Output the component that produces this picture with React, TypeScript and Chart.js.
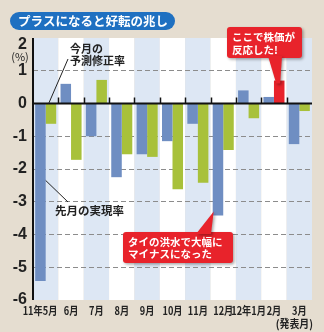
import React, { useEffect, useRef } from "react";
import { Chart, registerables } from "chart.js";
Chart.register(...registerables);

const categories = ["11年5月", "6月", "7月", "8月", "9月", "10月", "11月", "12月", "12年1月", "2月", "3月"];
const realized = [-5.42, 0.6, -1.0, -2.25, -1.55, -1.15, -0.62, -3.42, 0.4, 0.2, -1.24];
const forecastRevision = [-0.62, -1.72, 0.72, -1.55, -1.63, -2.62, -2.42, -1.42, -0.45, 0.7, -0.23];
const seriesNames = ["先月の実現率", "今月の予測修正率"];
const highlightIndex = 9;
const worstIndex = 7;
const gridValues = [1, -1, -2, -3, -4, -5];
const titleText = "プラスになると好転の兆し";
const unitText = "(%)";
const footText = "(発表月)";
const callout1 = ["ここで株価が", "反応した!"];
const callout2 = ["タイの洪水で大幅に", "マイナスになった"];
const label1 = ["今月の", "予測修正率"];

const BG = "#e5ddd0";
const BAND = "#dde7f4";
const BLUE = "#6f8ec2";
const GREEN = "#a8c13a";
const RED = "#e8232b";
const TITLE = "#1f70c1";
const JP = '"Noto Sans CJK JP", sans-serif';
const NUM = '"Liberation Sans", Arial, sans-serif';

function roundRect(ctx: CanvasRenderingContext2D, x: number, y: number, w: number, h: number, r: number) {
  ctx.beginPath();
  ctx.moveTo(x + r, y);
  ctx.lineTo(x + w - r, y);
  ctx.arcTo(x + w, y, x + w, y + r, r);
  ctx.lineTo(x + w, y + h - r);
  ctx.arcTo(x + w, y + h, x + w - r, y + h, r);
  ctx.lineTo(x + r, y + h);
  ctx.arcTo(x, y + h, x, y + h - r, r);
  ctx.lineTo(x, y + r);
  ctx.arcTo(x, y, x + r, y, r);
  ctx.closePath();
}

function squeezedText(ctx: CanvasRenderingContext2D, text: string, px: number, py: number, align: CanvasTextAlign, sx: number) {
  ctx.save();
  ctx.translate(px, py);
  ctx.scale(sx, 1);
  ctx.textAlign = align;
  ctx.fillText(text, 0, 0);
  ctx.restore();
}

const decor = {
  id: "decor",
  beforeDraw(chart: any) {
    const { ctx, chartArea: a, scales } = chart;
    const x = scales.x;
    ctx.save();
    ctx.fillStyle = BG;
    ctx.fillRect(0, 0, chart.width, chart.height);
    const n = categories.length;
    for (let i = 0; i < n; i++) {
      const l = i === 0 ? a.left : (x.getPixelForValue(i - 1) + x.getPixelForValue(i)) / 2;
      const r = i === n - 1 ? a.right : (x.getPixelForValue(i) + x.getPixelForValue(i + 1)) / 2;
      ctx.fillStyle = i % 2 === 0 ? BAND : "#ffffff";
      ctx.fillRect(l, a.top, r - l, a.bottom - a.top);
    }
    // title pill
    ctx.fillStyle = TITLE;
    roundRect(ctx, 10, 12, 165, 18, 9);
    ctx.fill();
    ctx.fillStyle = "#fff";
    ctx.font = `bold 12.5px ${JP}`;
    ctx.textBaseline = "middle";
    ctx.textAlign = "left";
    ctx.fillText(titleText, 18, 21.5);
    ctx.restore();
  },
  afterDatasetsDraw(chart: any) {
    const { ctx, chartArea: a, scales } = chart;
    const x = scales.x;
    const y = scales.y;
    const y0 = y.getPixelForValue(0);
    const n = categories.length;
    ctx.save();
    // zero line
    ctx.strokeStyle = "#111";
    ctx.lineWidth = 2;
    ctx.beginPath();
    ctx.moveTo(a.left, y0);
    ctx.lineTo(a.right, y0);
    ctx.stroke();
    // tick marks at category boundaries
    ctx.lineWidth = 1.5;
    for (let i = 1; i < n; i++) {
      const bx = Math.round((x.getPixelForValue(i - 1) + x.getPixelForValue(i)) / 2) + 0.5;
      ctx.beginPath();
      ctx.moveTo(bx, y0);
      ctx.lineTo(bx, y0 - 6);
      ctx.stroke();
    }
    // y axis line
    ctx.lineWidth = 2;
    ctx.beginPath();
    ctx.moveTo(a.left, a.top);
    ctx.lineTo(a.left, a.bottom);
    ctx.stroke();

    // x category labels (condensed, as in the original print)
    ctx.fillStyle = "#222";
    ctx.font = `bold 11.5px ${JP}`;
    ctx.textBaseline = "middle";
    const labels = x.getLabels();
    for (let i = 0; i < labels.length; i++) {
      const cx = x.getPixelForValue(i);
      if (i === 0) {
        const bnd = (x.getPixelForValue(0) + x.getPixelForValue(1)) / 2;
        squeezedText(ctx, labels[i], bnd - 1, 310.5, "right", 0.8);
      } else {
        squeezedText(ctx, labels[i], cx, 310.5, "center", 0.8);
      }
    }

    // top label "2" and unit
    ctx.fillStyle = "#222";
    ctx.font = `bold 16px ${NUM}`;
    ctx.textAlign = "right";
    ctx.textBaseline = "middle";
    ctx.fillText(String(y.max), 27, 45);
    ctx.font = `11px ${JP}`;
    ctx.textAlign = "center";
    ctx.fillText(unitText, 20, 57);

    // foot text
    ctx.font = `bold 11px ${JP}`;
    squeezedText(ctx, footText, 313, 324, "right", 0.9);

    // label lines
    const m0 = chart.getDatasetMeta(0).data;
    const m1 = chart.getDatasetMeta(1).data;
    ctx.strokeStyle = "#222";
    ctx.lineWidth = 1;
    const g0 = m1[0];
    ctx.beginPath();
    ctx.moveTo(68, 59);
    ctx.lineTo(g0.x - g0.width / 2 + 3, y0);
    ctx.stroke();
    const b0 = m0[0];
    ctx.beginPath();
    ctx.moveTo(b0.x + b0.width / 2, y.getPixelForValue(-2.35));
    ctx.lineTo(68, 202);
    ctx.stroke();
    ctx.fillStyle = "#222";
    ctx.font = `bold 11px ${JP}`;
    ctx.textAlign = "left";
    ctx.fillText(label1[0], 70, 49);
    ctx.fillText(label1[1], 70, 61);
    ctx.font = `bold 11.5px ${JP}`;
    ctx.fillText(seriesNames[0], 55, 211);

    // callout 1
    const hb = m1[highlightIndex];
    ctx.save();
    ctx.shadowColor = "rgba(0,0,0,0.35)";
    ctx.shadowBlur = 3;
    ctx.shadowOffsetX = 1.5;
    ctx.shadowOffsetY = 1.5;
    ctx.fillStyle = RED;
    roundRect(ctx, 227, 27, 75, 31, 3);
    ctx.fill();
    ctx.beginPath();
    ctx.moveTo(268, 56);
    ctx.lineTo(282, 56);
    ctx.lineTo(hb.x + 1, hb.y + 3);
    ctx.lineTo(hb.x - 3, hb.y + 3);
    ctx.closePath();
    ctx.fill();
    // callout 2
    const wb = m0[worstIndex];
    roundRect(ctx, 123, 232, 110, 31, 3);
    ctx.fill();
    ctx.beginPath();
    ctx.moveTo(196, 234);
    ctx.lineTo(211, 234);
    ctx.lineTo(wb.x - wb.width / 2 + 1, wb.y - 4);
    ctx.closePath();
    ctx.fill();
    ctx.restore();
    ctx.fillStyle = "#fff";
    ctx.textAlign = "left";
    ctx.textBaseline = "middle";
    ctx.font = `bold 10.5px ${JP}`;
    ctx.fillText(callout1[0], 232, 37);
    ctx.fillText(callout1[1], 232, 50);
    ctx.fillText(callout2[0], 128, 242);
    ctx.fillText(callout2[1], 128, 254);
    ctx.restore();
  },
};

export default function App() {
  const ref = useRef<HTMLCanvasElement>(null);
  useEffect(() => {
    if (!ref.current) return;
    const chart = new Chart(ref.current, {
      type: "bar",
      data: {
        labels: categories,
        datasets: [
          {
            label: seriesNames[0],
            data: realized,
            backgroundColor: BLUE,
            borderWidth: 0,
            categoryPercentage: 0.83,
            barPercentage: 1,
          },
          {
            label: seriesNames[1],
            data: forecastRevision,
            backgroundColor: forecastRevision.map((_, i) => (i === highlightIndex ? RED : GREEN)),
            borderWidth: 0,
            categoryPercentage: 0.83,
            barPercentage: 1,
          },
        ],
      },
      options: {
        responsive: false,
        animation: false,
        devicePixelRatio: 1,
        layout: { padding: { left: 0, right: 12, top: 38, bottom: 0 } },
        plugins: { legend: { display: false }, tooltip: { enabled: false } },
        scales: {
          x: {
            grid: { display: false, drawTicks: false },
            border: { display: false },
            ticks: { display: false },
            afterFit(s: any) {
              s.height = 32;
            },
          },
          y: {
            min: -6,
            max: 2,
            ticks: {
              stepSize: 1,
              padding: 6,
              color: "#222",
              font: { family: NUM, size: 16, weight: "bold" },
              callback: (v: any) => (v === 2 ? "" : String(v)),
            },
            grid: {
              drawTicks: false,
              lineWidth: 1,
              color: (c: any) => (gridValues.includes(c.tick?.value) ? "#8c8c8c" : "rgba(0,0,0,0)"),
            },
            border: { display: false, dash: [5, 3] },
            afterFit(s: any) {
              s.width = 33;
            },
          },
        },
      },
      plugins: [decor],
    } as any);
    return () => chart.destroy();
  }, []);
  return (
    <div style={{ position: "fixed", left: 0, top: 0, width: 324, height: 332, background: BG }}>
      <canvas ref={ref} width={324} height={332} style={{ display: "block", width: 324, height: 332 }} />
    </div>
  );
}
